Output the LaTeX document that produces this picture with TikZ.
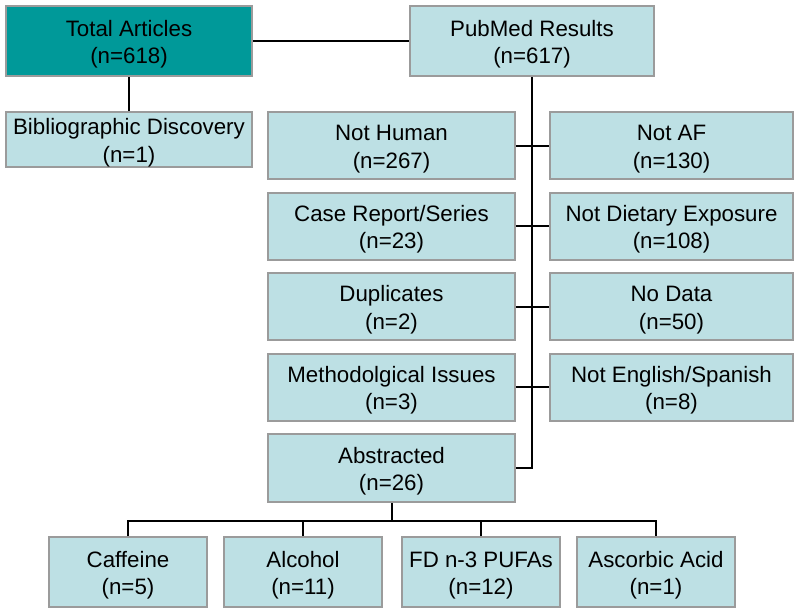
\documentclass[tikz,border=0pt]{standalone}
\usepackage{fontspec}
\setmainfont{Liberation Sans}
\definecolor{teal1}{RGB}{0,153,153}
\definecolor{lightbox}{RGB}{189,224,228}
\definecolor{edgegray}{RGB}{155,155,155}
\newcommand{\twoln}[2]{\rule{0pt}{23pt}#1\\#2}
\tikzset{
  box/.style={draw=edgegray, line width=2pt, fill=lightbox, align=center,
    inner sep=0pt, text=black, font=\fontsize{22.3}{27.5}\selectfont},
  conn/.style={draw=black, line width=2pt},
}
\begin{document}
\begin{tikzpicture}[x=1pt,y=-1pt]
\useasboundingbox (0,0) rectangle (800,614);
% top row
\node[box, fill=teal1, minimum width=246pt, minimum height=70pt] (total) at (129,41) {\twoln{Total Articles}{(n=618)}};
\node[box, minimum width=244pt, minimum height=70pt] (pubmed) at (532,41) {\twoln{PubMed Results}{(n=617)}};
\node[box, minimum width=246pt, minimum height=55pt] (biblio) at (129,139.5) {\twoln{Bibliographic Discovery}{(n=1)}};
% middle columns
\tikzset{lbox/.style={box, minimum width=247pt, minimum height=67pt},
         rbox/.style={box, minimum width=243pt, minimum height=67pt}}
\node[lbox] (nothuman) at (391.5,145.5) {\twoln{Not Human}{(n=267)}};
\node[rbox] (notaf) at (671.5,145.5) {\twoln{Not AF}{(n=130)}};
\node[lbox] (casereport) at (391.5,226) {\twoln{Case Report/Series}{(n=23)}};
\node[rbox] (notdiet) at (671.5,226) {\twoln{Not Dietary Exposure}{(n=108)}};
\node[lbox] (dup) at (391.5,306.5) {\twoln{Duplicates}{(n=2)}};
\node[rbox] (nodata) at (671.5,306.5) {\twoln{No Data}{(n=50)}};
\node[lbox] (method) at (391.5,387) {\twoln{Methodolgical Issues}{(n=3)}};
\node[rbox] (noteng) at (671.5,387) {\twoln{Not English/Spanish}{(n=8)}};
\node[lbox, minimum height=68pt] (abstracted) at (391.5,468) {\twoln{Abstracted}{(n=26)}};
% bottom row
\tikzset{bbox/.style={box, minimum width=158pt, minimum height=70pt}}
\node[bbox] (caffeine) at (128,572) {\twoln{Caffeine}{(n=5)}};
\node[bbox] (alcohol) at (303,572) {\twoln{Alcohol}{(n=11)}};
\node[bbox] (fd) at (481,572) {\twoln{FD n-3 PUFAs}{(n=12)}};
\node[bbox] (asc) at (656,572) {\twoln{Ascorbic Acid}{(n=1)}};
\coordinate (bar) at (0,521);
% connectors
\draw[conn] (total.east) -- (pubmed.west);
\draw[conn] (total.south) -- (biblio.north);
\draw[conn] (pubmed.south) |- (abstracted.east);
\draw[conn] (nothuman.east) -- (notaf.west);
\draw[conn] (casereport.east) -- (notdiet.west);
\draw[conn] (dup.east) -- (nodata.west);
\draw[conn] (method.east) -- (noteng.west);
\draw[conn] (abstracted.south) -- (abstracted.south |- bar);
\draw[conn] (caffeine.north) -- (caffeine.north |- bar) -- (asc.north |- bar) -- (asc.north);
\draw[conn] (alcohol.north) -- (alcohol.north |- bar);
\draw[conn] (fd.north) -- (fd.north |- bar);
\end{tikzpicture}
\end{document}
